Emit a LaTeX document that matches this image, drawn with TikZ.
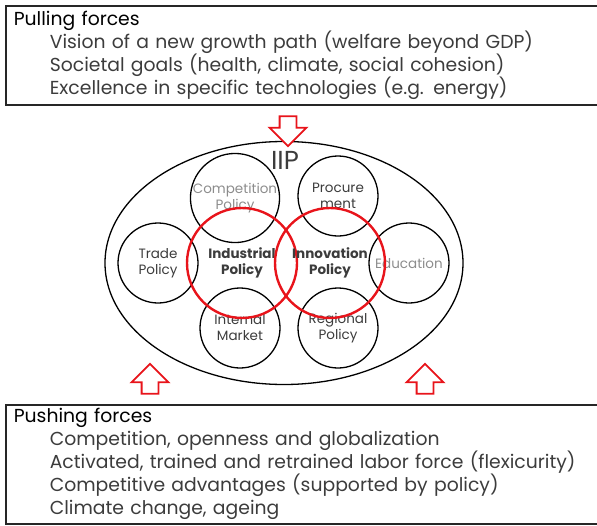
\documentclass[tikz,border=0pt]{standalone}
\usepackage{fontspec}
\setmainfont{Poppins}
\usetikzlibrary{shapes.geometric,shapes.arrows,positioning}

\definecolor{txtgray}{HTML}{3C3C3C}
\definecolor{palegray}{HTML}{8C8C8C}
\definecolor{iipred}{HTML}{E8141B}

\tikzset{
	forcebox/.style={draw=black!85, line width=1.6pt, anchor=north west, align=left,
		inner xsep=8pt, text width=584pt, text=txtgray, font=\fontsize{18.8}{23}\selectfont},
	policy/.style={circle, draw, line width=1.3pt, minimum size=80pt, inner sep=0pt,
		align=center, text=txtgray, font=\fontsize{13.5}{16}\selectfont},
	mainpolicy/.style={circle, draw=iipred, line width=2.4pt, minimum size=110pt,
		inner sep=0pt, align=center, text=txtgray, font=\bfseries\fontsize{13.5}{16}\selectfont},
	forcearrow/.style={single arrow, draw=iipred, fill=white, line width=1.8pt,
		minimum height=30pt, inner sep=7.5pt, single arrow head extend=10pt,
		single arrow tip angle=90}
}

\begin{document}
\begin{tikzpicture}[x=1pt, y=-1pt]
	\useasboundingbox (0, 0) rectangle (597, 525);

	\node[forcebox, minimum height=99pt] (pulling) at (5, 5) {%
		{\color{black}Pulling forces}\\
		\hspace*{36pt}Vision of a new growth path (welfare beyond GDP)\\
		\hspace*{36pt}Societal goals (health, climate, social cohesion)\\
		\hspace*{36pt}Excellence in specific technologies (e.g. energy)};

	\node[forcebox, minimum height=119pt] (pushing) at (5, 404) {%
		{\color{black}Pushing forces}\\
		\hspace*{36pt}Competition, openness and globalization\\
		\hspace*{36pt}Activated, trained and retrained labor force (flexicurity)\\
		\hspace*{36pt}Competitive advantages (supported by policy)\\
		\hspace*{36pt}Climate change, ageing};

	\node[ellipse, draw, line width=1.3pt, minimum width=358pt, minimum height=243pt] (iip) at (284, 263) {};
	\node[text=txtgray, font=\fontsize{26}{26}\selectfont] (iiplabel) at (285, 160) {IIP};

	\node[policy, text=palegray] (competition) at (235, 198) {Competition\\Policy};
	\node[policy] (procurement) at (338, 196) {Procure\\ment};
	\node[policy] (trade) at (158, 263) {Trade\\Policy};
	\node[policy, text=palegray] (education) at (409, 263) {Education};
	\node[policy] (internal) at (240, 328) {Internal\\Market};
	\node[policy] (regional) at (338, 328) {Regional\\Policy};

	\node[mainpolicy] (industrial) at (242, 263) {Industrial\\Policy};
	\node[mainpolicy] (innovation) at (330, 263) {Innovation\\Policy};

	\node[forcearrow, rotate=-90] (pullarrow) at (288, 127) {};
	\node[forcearrow, rotate=90] (pushleft) at (150, 383) {};
	\node[forcearrow, rotate=90] (pushright) at (425, 383) {};
\end{tikzpicture}
\end{document}
